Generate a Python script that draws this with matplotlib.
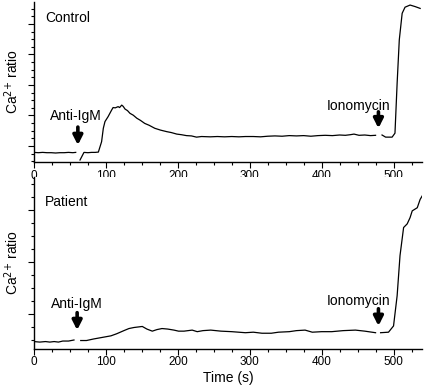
import matplotlib
matplotlib.use("Agg")
import matplotlib.pyplot as plt
from matplotlib.ticker import MultipleLocator, NullFormatter

plt.rcParams['font.family'] = ['Liberation Sans', 'DejaVu Sans']

# ---- Control trace (three recorded segments) ----
ctrl_t1 = [0, 6, 12, 18, 24, 30, 36, 42, 48, 54, 58]
ctrl_v1 = [0.79, 0.78, 0.79, 0.78, 0.78, 0.77, 0.78, 0.78, 0.79, 0.78, 0.79]
ctrl_t2 = [64, 69.5, 75, 80, 85, 89.5, 94, 96.4, 98.7, 103, 108, 110, 113, 117, 119, 122,
           124, 126.6, 130, 133.5, 138, 143, 148, 154, 160, 168, 176, 184.6, 191, 198.5,
           205, 212, 219, 226, 233, 245, 255, 265, 275, 285, 294, 305, 315, 325, 335,
           345, 355, 365, 375, 385, 395, 405, 415, 425, 433, 440, 445, 452, 460, 468, 475]
ctrl_v2 = [0.54, 0.79, 0.78, 0.79, 0.79, 0.80, 1.14, 1.58, 1.80, 1.96, 2.18, 2.26, 2.25,
           2.29, 2.26, 2.34, 2.30, 2.21, 2.16, 2.07, 2.01, 1.91, 1.84, 1.74, 1.68, 1.58,
           1.52, 1.47, 1.44, 1.39, 1.37, 1.34, 1.33, 1.29, 1.31, 1.30, 1.31, 1.30, 1.31,
           1.30, 1.31, 1.31, 1.30, 1.32, 1.33, 1.32, 1.34, 1.33, 1.34, 1.32, 1.34, 1.35,
           1.34, 1.36, 1.35, 1.37, 1.39, 1.35, 1.36, 1.34, 1.35]
ctrl_t3 = [484, 489, 498, 502, 505, 508, 512, 516, 523, 530, 537]
ctrl_v3 = [1.36, 1.29, 1.29, 1.42, 3.06, 4.48, 5.35, 5.55, 5.62, 5.57, 5.51]

# ---- Patient trace ----
pat_t1 = [0, 8, 16, 22, 28, 34, 40, 48, 55.6]
pat_v1 = [0.47, 0.46, 0.47, 0.46, 0.47, 0.46, 0.48, 0.48, 0.50]
pat_t2 = [65, 73, 83, 95, 107, 115, 125, 132, 139, 150.6, 157, 164.5, 171, 178, 186,
          194.7, 201, 208.6, 220, 227, 235, 245.8, 260, 275, 294, 305, 317, 330, 340,
          355, 365, 377, 387, 400, 414, 430, 447, 460, 475]
pat_v2 = [0.49, 0.49, 0.52, 0.55, 0.58, 0.62, 0.68, 0.72, 0.74, 0.76, 0.71, 0.67, 0.70,
          0.72, 0.71, 0.69, 0.67, 0.67, 0.69, 0.66, 0.68, 0.69, 0.67, 0.66, 0.64, 0.65,
          0.63, 0.63, 0.65, 0.66, 0.68, 0.69, 0.65, 0.66, 0.66, 0.68, 0.69, 0.67, 0.64]
pat_t3 = [482, 493, 500, 505, 509, 514, 519, 523, 526, 533, 537, 540]
pat_v3 = [0.64, 0.65, 0.77, 1.35, 2.12, 2.66, 2.73, 2.85, 2.98, 3.04, 3.20, 3.27]

x_ticks = [0, 100, 200, 300, 400, 500]
panel_titles = ["Control", "Patient"]
ylabel = r"Ca$^{2{+}}$ ratio"
xlabel = "Time (s)"

W, H = 425, 392
fig = plt.figure(figsize=(W / 100, H / 100), dpi=100)

def rect(l, r, t, b):
    return [l / W, 1 - b / H, (r - l) / W, (b - t) / H]

ax1 = fig.add_axes(rect(34, 422.3, 2, 162))
ax2 = fig.add_axes(rect(34, 422.3, 177, 348.7))

lw = 0.9
for t, v in [(ctrl_t1, ctrl_v1), (ctrl_t2, ctrl_v2), (ctrl_t3, ctrl_v3)]:
    ax1.plot(t, v, color='black', lw=lw)
for t, v in [(pat_t1, pat_v1), (pat_t2, pat_v2), (pat_t3, pat_v3)]:
    ax2.plot(t, v, color='black', lw=lw)

ax1.set_ylim(0.475, 5.72)
ax2.set_ylim(0.333, 3.63)

title_y = [1 - 16 / 160, 1 - 25 / 171.7]
for ax, title, ty in zip([ax1, ax2], panel_titles, title_y):
    ax.set_xlim(0, 540)
    ax.set_xticks(x_ticks)
    ax.xaxis.set_minor_locator(MultipleLocator(25))
    ax.yaxis.set_major_locator(MultipleLocator(1))
    ax.yaxis.set_minor_locator(MultipleLocator(0.25))
    ax.yaxis.set_major_formatter(NullFormatter())
    for s in ['top', 'right']:
        ax.spines[s].set_visible(False)
    for s in ['left', 'bottom']:
        ax.spines[s].set_linewidth(1.0)
    ax.tick_params(axis='both', which='major', direction='out', length=4, width=0.8,
                   labelsize=8.5, pad=1.5)
    ax.tick_params(axis='both', which='minor', direction='out', length=2, width=0.8)
    ax.set_ylabel(ylabel, fontsize=10, labelpad=4)
    ax.text((45 - 34) / 388.3, ty, title, transform=ax.transAxes,
            fontsize=10, va='center', ha='left')

ax2.set_xlabel(xlabel, fontsize=10, labelpad=2)

aprops = dict(arrowstyle='-|>,head_width=0.28,head_length=0.55', lw=2.6, color='black',
              shrinkA=0, shrinkB=0)

# top annotations
ax1.annotate('', xy=(61, 1.03), xytext=(61, 1.62), arrowprops=aprops)
ax1.text(58, 1.98, 'Anti-IgM', ha='center', va='center', fontsize=10)
ax1.annotate('', xy=(479, 1.58), xytext=(479, 2.12), arrowprops=aprops)
ax1.text(451, 2.31, 'Ionomycin', ha='center', va='center', fontsize=10)

# bottom annotations
ax2.annotate('', xy=(60, 0.69), xytext=(60, 1.025), arrowprops=aprops)
ax2.text(59, 1.19, 'Anti-IgM', ha='center', va='center', fontsize=10)
ax2.annotate('', xy=(479, 0.77), xytext=(479, 1.10), arrowprops=aprops)
ax2.text(451, 1.25, 'Ionomycin', ha='center', va='center', fontsize=10)

fig.savefig('out.png', dpi=100)
